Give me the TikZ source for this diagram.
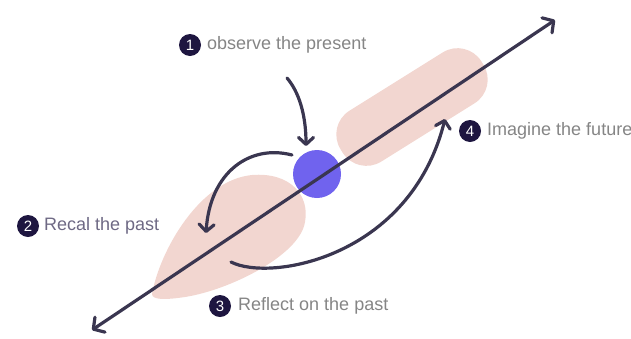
\documentclass[tikz,border=0pt]{standalone}
\usepackage{fontspec}
\setmainfont{Liberation Sans}
\usetikzlibrary{arrows.meta}
\definecolor{blush}{HTML}{F2D6D0}
\definecolor{ink}{HTML}{3A3650}
\definecolor{navy}{HTML}{1E1640}
\definecolor{violet}{HTML}{7063EE}
\definecolor{greytext}{HTML}{858585}
\definecolor{mauvetext}{HTML}{6E6984}

\begin{document}
\begin{tikzpicture}[
        x=1pt, y=-1pt,
        num/.style={circle, fill=navy, text=white, inner sep=0pt, minimum size=22pt, font=\fontsize{15}{15}\selectfont},
        caption/.style={anchor=west, inner sep=0pt, text=greytext, font=\fontsize{18}{20}\selectfont},
        arrow/.style={-{Straight Barb[length=7pt, width=15pt, line cap=round, line join=round]}, line width=3.2pt, ink, line cap=round},
        axis/.style={{Straight Barb[length=8pt, width=18pt, line cap=round, line join=round]}-{Straight Barb[length=8pt, width=18pt, line cap=round, line join=round]}, line width=3.2pt, ink, line cap=round}
    ]
        \useasboundingbox (0,0) rectangle (631,338);

        % === blobs ===
        \fill[blush] (152,294) .. controls (160,250) and (200,180) .. (252,175)
            .. controls (290,172) and (310,195) .. (305,222)
            .. controls (300,255) and (230,290) .. (185,297)
            .. controls (165,300) and (152,300) .. (152,294) -- cycle;
        \node[fill=blush, rounded corners=28pt, minimum width=166pt, minimum height=60pt, rotate=32] (later) at (412,107) {};

        % === present ===
        \node[circle, fill=violet, minimum size=48pt, inner sep=0pt] (now) at (317,174) {};

        % === time axis ===
        \coordinate (past) at (92,330);
        \coordinate (future) at (555,20);
        \draw[axis] (past) -- (future);

        % === steps ===
        \node[num] (n1) at (190,45) {1};
        \node[caption] (t1) at (207,45) {observe the present};
        \node[num] (n2) at (28,226) {2};
        \node[caption, text=mauvetext] (t2) at (44,226) {Recal the past};
        \node[num] (n3) at (220,306) {3};
        \node[caption] (t3) at (238,306) {Reflect on the past};
        \node[num] (n4) at (470,131) {4};
        \node[caption] (t4) at (487,131) {Imagine the future};

        \coordinate (a1) at (287,78);
        \coordinate (b1) at (306,146);
        \coordinate (a2) at (292,155);
        \coordinate (b2) at (206,233);
        \coordinate (a3) at (231,262);
        \coordinate (b3) at (445,119);

        \draw[arrow] (a1) .. controls (299,92) and (306,115) .. (b1);
        \draw[arrow] (a2) .. controls (250,144) and (210,172) .. (b2);
        \draw[arrow] (a3) .. controls (270,282) and (410,258) .. (b3);
    \end{tikzpicture}
\end{document}
